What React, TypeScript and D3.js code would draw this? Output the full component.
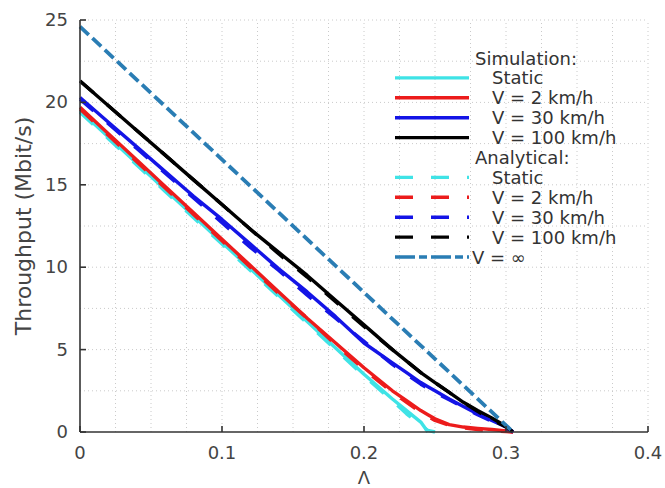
import React from "react";
import * as d3 from "d3";

// Λ sample points shared by all curves
const lambdaGrid = [0, 0.02, 0.04, 0.06, 0.08, 0.1, 0.12, 0.14, 0.16, 0.18, 0.2, 0.22, 0.23, 0.24, 0.245, 0.25, 0.26, 0.27, 0.28, 0.29, 0.3, 0.305];

// simulation (solid)
const simStatic = [19.5, 17.9, 16.3, 14.7, 13.1, 11.5, 9.9, 8.3, 6.7, 5.1, 3.5, 2.0, 1.3, 0.6, 0, NaN, NaN, NaN, NaN, NaN, NaN, NaN];
const sim2 = [19.7, 18.1, 16.5, 14.9, 13.3, 11.7, 10.1, 8.5, 6.9, 5.4, 3.9, 2.5, 1.9, 1.3, 1.05, 0.8, 0.45, 0.3, 0.22, 0.15, 0.06, 0];
const sim30 = [20.3, 18.8, 17.3, 15.8, 14.3, 12.9, 11.4, 9.9, 8.5, 7.0, 5.4, 4.2, 3.6, 3.0, 2.75, 2.5, 2.0, 1.55, 1.1, 0.7, 0.3, 0];
const sim100 = [21.3, 19.8, 18.3, 16.8, 15.3, 13.8, 12.3, 10.9, 9.5, 8.0, 6.5, 5.0, 4.3, 3.6, 3.3, 3.0, 2.4, 1.8, 1.3, 0.85, 0.35, 0];

// analytical (dashed)
const anStatic = [19.4, 17.8, 16.2, 14.6, 13.0, 11.4, 9.8, 8.2, 6.6, 5.0, 3.4, 1.9, 1.1, 0.4, 0.1, 0, NaN, NaN, NaN, NaN, NaN, NaN];
const an2 = [19.6, 18.0, 16.4, 14.8, 13.2, 11.6, 10.0, 8.4, 6.9, 5.3, 3.8, 2.4, 1.8, 1.2, 0.95, 0.7, 0.4, 0.25, 0.15, 0.08, 0.03, 0];
const an30 = [20.2, 18.7, 17.2, 15.7, 14.2, 12.7, 11.2, 9.8, 8.3, 6.9, 5.5, 4.1, 3.5, 2.9, 2.65, 2.4, 1.95, 1.5, 1.05, 0.65, 0.25, 0];
const an100 = [21.3, 19.8, 18.3, 16.8, 15.3, 13.8, 12.3, 10.8, 9.4, 7.9, 6.4, 5.0, 4.3, 3.6, 3.3, 3.0, 2.4, 1.8, 1.25, 0.75, 0.3, 0];

const lambdaInf = [0, 0.305];
const infValues = [24.6, 0];

const xTicks = [0, 0.1, 0.2, 0.3, 0.4];
const yTicks = [0, 5, 10, 15, 20, 25];

const cyan = "#3fe3e6";
const red = "#ec1c1c";
const blue = "#1414e6";
const black = "#000000";
const steel = "#2a7db4";

const font = "DejaVu Sans, sans-serif";

export default function App() {
  const x = d3.scaleLinear().domain([0, 0.4]).range([80, 648]);
  const y = d3.scaleLinear().domain([0, 25]).range([432, 20]);

  const line = d3
    .line<[number, number]>()
    .defined((d) => !isNaN(d[1]))
    .x((d) => x(d[0]))
    .y((d) => y(d[1]));

  const path = (xs: number[], ys: number[]) => line(xs.map((v, i) => [v, ys[i]] as [number, number])) || "";

  const series = [
    { vals: simStatic, color: cyan, dash: "none" },
    { vals: sim2, color: red, dash: "none" },
    { vals: sim30, color: blue, dash: "none" },
    { vals: sim100, color: black, dash: "none" },
    { vals: anStatic, color: cyan, dash: "18,18" },
    { vals: an2, color: red, dash: "18,18" },
    { vals: an30, color: blue, dash: "18,18" },
    { vals: an100, color: black, dash: "18,18" },
  ];

  const xMinor = d3.range(0, 0.4001, 0.025);
  const yMinor = d3.range(0, 25.001, 2.5);

  const legendRows = [
    { label: "Simulation:", header: true },
    { label: "Static", color: cyan, dash: "none" },
    { label: "V = 2 km/h", color: red, dash: "none" },
    { label: "V = 30 km/h", color: blue, dash: "none" },
    { label: "V = 100 km/h", color: black, dash: "none" },
    { label: "Analytical:", header: true },
    { label: "Static", color: cyan, dash: "18,18" },
    { label: "V = 2 km/h", color: red, dash: "18,18" },
    { label: "V = 30 km/h", color: blue, dash: "18,18" },
    { label: "V = 100 km/h", color: black, dash: "18,18" },
    { label: "V = \u221E", color: steel, dash: "20,4,8,4", inf: true },
  ];

  return (
    <svg width={665} height={488} style={{ display: "block", position: "absolute", left: 0, top: 0 }}>
      <rect width={665} height={488} fill="#fff" />
      {/* dotted grid */}
      <g stroke="#cacaca" strokeWidth={1} strokeDasharray="1,3">
        {xMinor.slice(1).map((v) => (
          <line key={"gx" + v} x1={x(v)} x2={x(v)} y1={y(0)} y2={y(25)} />
        ))}
        {yMinor.slice(1).map((v) => (
          <line key={"gy" + v} x1={x(0)} x2={x(0.4)} y1={y(v)} y2={y(v)} />
        ))}
      </g>

      {/* curves */}
      {series.map((s, i) => (
        <path
          key={i}
          d={path(lambdaGrid, s.vals)}
          fill="none"
          stroke={s.color}
          strokeWidth={3.4}
          strokeDasharray={s.dash}
          strokeLinejoin="round"
        />
      ))}
      <path d={path(lambdaInf, infValues)} fill="none" stroke={steel} strokeWidth={3.8} strokeDasharray="12,5" />

      {/* axes */}
      <g stroke="#333" strokeWidth={1.6}>
        <line x1={x(0)} x2={x(0.4)} y1={y(0)} y2={y(0)} />
        <line x1={x(0)} x2={x(0)} y1={y(0)} y2={y(25)} />
        {xTicks.map((t) => (
          <line key={"xt" + t} x1={x(t)} x2={x(t)} y1={y(0)} y2={y(0) - 6} />
        ))}
        {yTicks.map((t) => (
          <line key={"yt" + t} x1={x(0)} x2={x(0) + 6} y1={y(t)} y2={y(t)} />
        ))}
      </g>
      <g fontFamily={font} fontSize={18} fill="#444">
        {xTicks.map((t) => (
          <text key={"xl" + t} x={x(t)} y={y(0) + 27} textAnchor="middle">
            {d3.format("")(t)}
          </text>
        ))}
        {yTicks.map((t) => (
          <text key={"yl" + t} x={x(0) - 12} y={y(t) + 6} textAnchor="end">
            {t}
          </text>
        ))}
      </g>
      <text x={x(0.2)} y={484} textAnchor="middle" fontFamily={font} fontSize={18} fill="#444">
        Λ
      </text>
      <text
        transform={`translate(31,${y(12.5)}) rotate(-90)`}
        textAnchor="middle"
        fontFamily={font}
        fontSize={22}
        fill="#444"
      >
        Throughput (Mbit/s)
      </text>

      {/* legend */}
      <g fontFamily={font} fontSize={18} fill="#333">
        {legendRows.map((r, i) => {
          const cy = 58 + i * 19.9;
          const tx = r.header ? 475 : r.inf ? 472 : 492;
          return (
            <g key={"lg" + i}>
              {!r.header && (
                <line x1={395} x2={469} y1={cy} y2={cy} stroke={r.color} strokeWidth={3.4} strokeDasharray={r.dash} />
              )}
              <text x={tx} y={cy + 6.5}>
                {r.label}
              </text>
            </g>
          );
        })}
      </g>
    </svg>
  );
}
